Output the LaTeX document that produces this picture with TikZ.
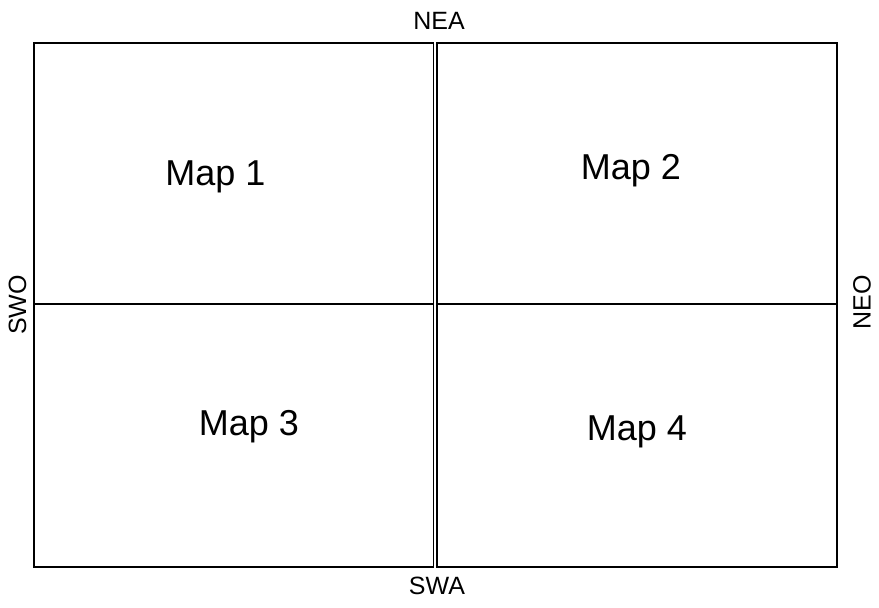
\documentclass[tikz,border=0pt]{standalone}
\usepackage{fontspec}
\setmainfont{Liberation Sans}
\begin{document}
\begin{tikzpicture}[x=1pt, y=-1pt, line width=1.8pt,
    maplabel/.style={font=\fontsize{36}{43}\selectfont, anchor=base, inner sep=0pt},
    edgelabel/.style={font=\fontsize{25}{30}\selectfont, inner sep=0pt}]
        \useasboundingbox (0,0) rectangle (879,608);
        % Left half (Map 1, Map 3)
        \draw (34,43) rectangle (433.4,567);
        \draw (34,304.3) -- (433.4,304.3);
        % Right half (Map 2, Map 4)
        \draw (436.6,43) rectangle (837,567);
        \draw (436.6,304.3) -- (837,304.3);
        % Map labels
        \node[maplabel] (map1) at (215.5,185) {Map 1};
        \node[maplabel] (map2) at (631,179) {Map 2};
        \node[maplabel] (map3) at (249,435) {Map 3};
        \node[maplabel] (map4) at (637,440) {Map 4};
        % Edge labels
        \node[edgelabel] (nea) at (439,21) {NEA};
        \node[edgelabel] (swa) at (437,586) {SWA};
        \node[edgelabel, rotate=90] (swo) at (17.5,305) {SWO};
        \node[edgelabel, rotate=90] (neo) at (862,302) {NEO};
    \end{tikzpicture}
\end{document}
